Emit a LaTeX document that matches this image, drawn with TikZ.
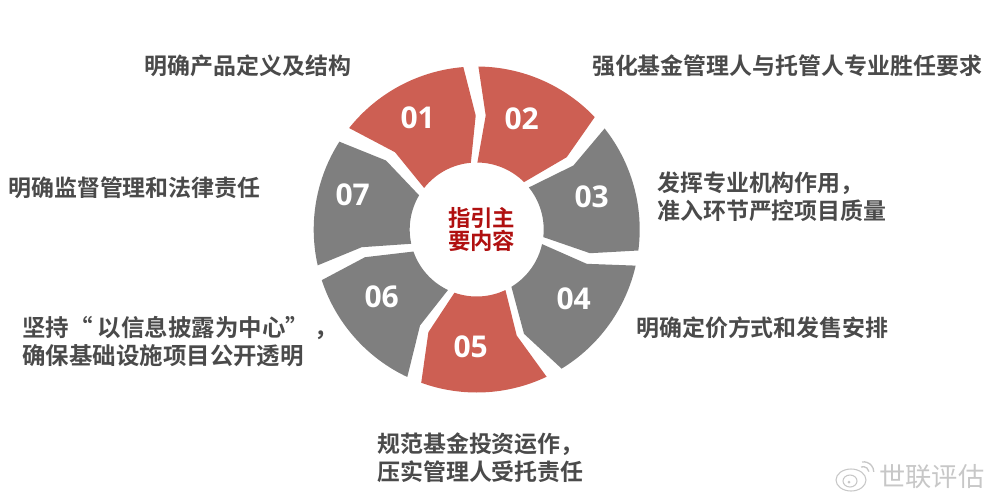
\documentclass[tikz,border=0pt]{standalone}
\usepackage{xcolor}
\usepackage{fontspec}
\setmainfont{Noto Sans CJK SC}[BoldFont={Noto Sans CJK SC Bold}]
\newfontfamily\numfont{Open Sans}[BoldFont={Open Sans Bold}]
\usetikzlibrary{calc}
\definecolor{sectorred}{HTML}{CD5F53}
\definecolor{sectorgray}{HTML}{7F7F7F}
\definecolor{labelgray}{HTML}{4A4A4A}
\definecolor{hubred}{HTML}{B01010}
\newcommand{\sector}[9]{%
    \fill[#1] (#2:163) arc[start angle=#2, end angle=#3, radius=163] -- #4 -- (#5:67) arc[start angle=#5, end angle=#6, radius=67] -- #7 -- cycle;
    \node (num#8) [numlabel] at #9 {#8};
}
\begin{document}
\begin{tikzpicture}[x=0.75pt, y=0.75pt,
    numlabel/.style={text=white, font=\numfont\fontsize{22.5}{26}\selectfont\bfseries},
    itemlabel/.style={text=labelgray, font=\fontsize{17.2}{20.6}\selectfont\bfseries, align=left, inner sep=0pt}]
    \useasboundingbox (0,0) rectangle (992,-501);

    % Define sectors
    \begin{scope}[shift={(476.7,-229.5)}]
        \sector{sectorred}{141.5}{94.7}{(-1,114)}{95}{141.7}{(-81.7,77.3)}{01}{(-59,112)}
        \sector{sectorred}{43.6}{89.4}{(9,114)}{89.4}{45}{(90,72.3)}{02}{(45,111)}
        \sector{sectorgray}{38.3}{-7.4}{(113.3,-23.7)}{-6.5}{38.9}{(96.7,64)}{03}{(115,33)}
        \sector{sectorgray}{-58.6}{-12.8}{(110,-34.3)}{-12.6}{-58.8}{(47.3,-104.3)}{04}{(97,-69)}
        \sector{sectorred}{-64.6}{-109.9}{(-48.3,-102.7)}{-109.4}{-64.6}{(40,-106)}{05}{(-6,-117)}
        \sector{sectorgray}{-115.2}{-161.9}{(-111.7,-27.7)}{-160.8}{-115.4}{(-56.7,-96)}{06}{(-95,-67)}
        \sector{sectorgray}{192.7}{147.4}{(-90.7,69)}{149.3}{192.3}{(-115,-17.7)}{07}{(-124,35)}
        \node (hub) [text=hubred, font=\fontsize{16.8}{17.6}\selectfont\bfseries, align=center] at (5,0) {指引主\\要内容};
    \end{scope}

    % Draw labels
    \node (item01) [itemlabel, anchor=center] at (248,-66) {明确产品定义及结构};
    \node (item02) [itemlabel, anchor=center] at (787,-66) {强化基金管理人与托管人专业胜任要求};
    \node (item03) [itemlabel, anchor=west] at (657,-196.5) {发挥专业机构作用，\\准入环节严控项目质量};
    \node (item04) [itemlabel, anchor=west] at (636,-328) {明确定价方式和发售安排};
    \node (item05) [itemlabel, anchor=west] at (377,-457.5) {规范基金投资运作，\\压实管理人受托责任};
    \node (item06) [itemlabel, font=\fontsize{17.6}{21.6}\selectfont\bfseries, anchor=west] at (22,-341.5) {坚持“ 以信息披露为中心” ，\\确保基础设施项目公开透明};
    \node (item07) [itemlabel, anchor=west] at (8,-188) {明确监督管理和法律责任};

    % Draw watermark
    \node (mark) [text=black!22, font=\fontsize{19.7}{22}\selectfont, anchor=west, inner sep=0pt] at (879,-477) {世联评估};
    \draw[black!22, line width=0.8pt] (851,-480) ellipse[x radius=15, y radius=11];
    \draw[black!22, line width=0.8pt] (850,-481) ellipse[x radius=7, y radius=6];
    \fill[black!22] (849,-482) circle[radius=1.5];
    \draw[black!22, line width=1pt] (861,-467) arc[start angle=110, end angle=10, radius=6];
    \draw[black!22, line width=1pt] (862,-462) arc[start angle=100, end angle=0, radius=10];
\end{tikzpicture}
\end{document}
